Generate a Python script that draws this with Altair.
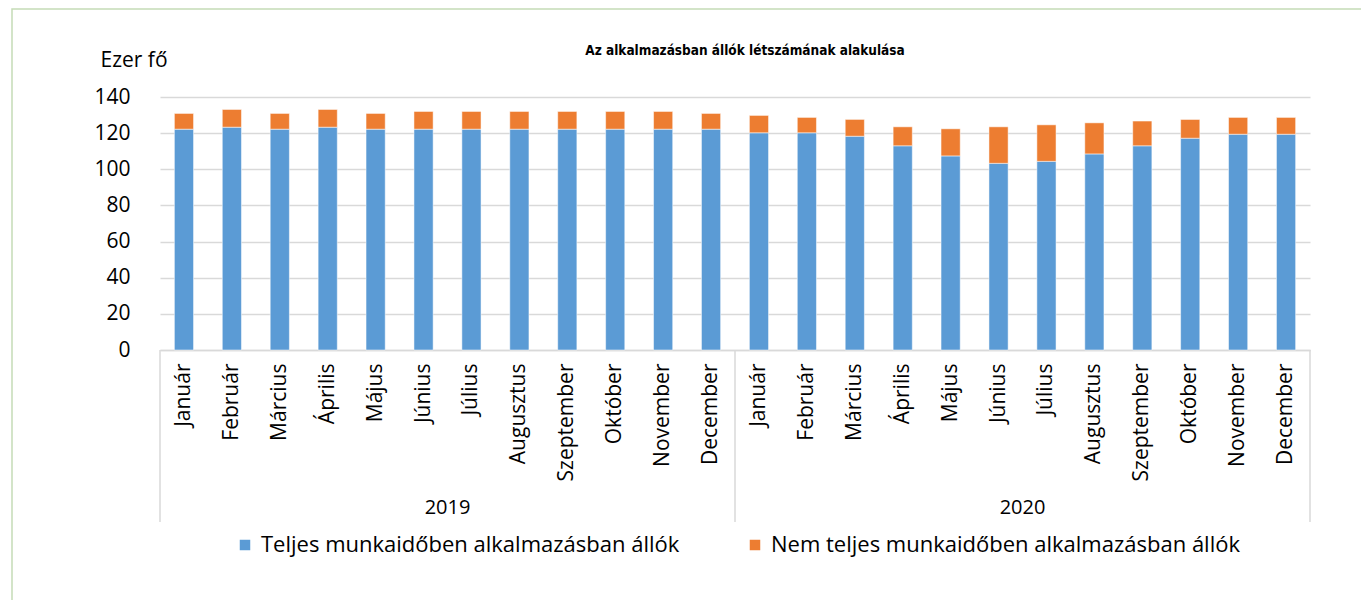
import altair as alt
import pandas as pd

months = ["Január", "Február", "Március", "Április", "Május", "Június",
          "Július", "Augusztus", "Szeptember", "Október", "November", "December"]
years = ["2019", "2020"]

# Ezer fő
full_time = [122.2, 123.3, 122.2, 123.3, 122.2, 122.2, 122.2, 122.2, 122.2, 122.2, 122.2, 122.2,
             120.2, 120.2, 118.3, 113.0, 107.4, 103.3, 104.4, 108.5, 113.0, 117.2, 119.4, 119.4]
part_time = [8.7, 9.8, 8.7, 9.8, 8.7, 9.8, 9.8, 9.8, 9.8, 9.8, 9.8, 8.7,
             9.6, 8.5, 9.3, 10.5, 15.0, 20.2, 20.2, 17.2, 13.7, 10.4, 9.3, 9.3]

series = ["Teljes munkaidőben alkalmazásban állók", "Nem teljes munkaidőben alkalmazásban állók"]
colors = ["#5b9bd5", "#ed7d31"]
y_ticks = [0, 20, 40, 60, 80, 100, 120, 140]

rows = []
for i in range(24):
    rows.append({"idx": i, "ev": years[i // 12], "honap": months[i % 12],
                 "sorozat": series[0], "sorrend": 0, "ertek": full_time[i]})
    rows.append({"idx": i, "ev": years[i // 12], "honap": months[i % 12],
                 "sorozat": series[1], "sorrend": 1, "ertek": part_time[i]})
df = pd.DataFrame(rows)

W, H = 1150, 253
FONT = "Open Sans"
GRID = "#d9d9d9"

month_js = "[" + ",".join("'" + m + "'" for m in months) + "]"
xscale = alt.Scale(domain=list(range(24)), paddingInner=0, paddingOuter=0)

bars = alt.Chart(df).mark_bar(width=alt.RelativeBandSize(0.4), stroke="white", strokeWidth=0.5).encode(
    x=alt.X("idx:O", scale=xscale,
            axis=alt.Axis(labelExpr=month_js + "[datum.value % 12]", labelAngle=-90,
                          ticks=False, domain=True, domainColor=GRID, domainWidth=1.5,
                          labelPadding=13, labelFont=FONT, labelFontSize=21,
                          labelColor="#000000", title=None, grid=False, labelLimit=0)),
    y=alt.Y("ertek:Q", stack="zero", scale=alt.Scale(domain=[0, 140], nice=False),
            axis=alt.Axis(values=y_ticks, grid=True, gridColor=GRID, gridWidth=1.5,
                          domain=False, ticks=False, labelPadding=30, labelFont=FONT,
                          labelFontSize=21, labelColor="#000000",
                          title="Ezer fő", titleAngle=0, titleAlign="left",
                          titleBaseline="alphabetic", titleX=-60, titleY=-31,
                          titleFont=FONT, titleFontSize=21, titleFontWeight="normal",
                          titleColor="#000000")),
    color=alt.Color("sorozat:N", scale=alt.Scale(domain=series, range=colors),
                    legend=alt.Legend(title=None, orient="none", direction="horizontal",
                                      legendX=74, legendY=437, symbolType="square",
                                      symbolSize=110, symbolStrokeWidth=0,
                                      labelFont=FONT, labelFontSize=22, labelLimit=0,
                                      labelColor="#000000", columnPadding=64,
                                      labelOffset=5)),
    order=alt.Order("sorrend:Q", sort="ascending"),
)

sep_df = pd.DataFrame({"idx": [0, 12]})
sep_end_df = pd.DataFrame({"idx": [23]})
seps = alt.Chart(sep_df).mark_rule(color=GRID, strokeWidth=1.5).encode(
    x=alt.X("idx:O", scale=xscale, bandPosition=0),
    y=alt.value(H), y2=alt.value(H + 172))
sep_end = alt.Chart(sep_end_df).mark_rule(color=GRID, strokeWidth=1.5).encode(
    x=alt.X("idx:O", scale=xscale, bandPosition=1),
    y=alt.value(H), y2=alt.value(H + 172))

year_df = pd.DataFrame({"idx": [5, 17], "ev": years})
year_text = alt.Chart(year_df).mark_text(font=FONT, fontSize=20, color="#000000",
                                         baseline="middle", align="center").encode(
    x=alt.X("idx:O", scale=xscale, bandPosition=1),
    y=alt.value(H + 158), text="ev:N")

frame = alt.Chart(pd.DataFrame({"k": [0]})).mark_rect(fill=None, stroke="#c5dbb6", strokeWidth=1.5).encode(
    x=alt.value(-148), x2=alt.value(1250), y=alt.value(-88), y2=alt.value(700))

chart = alt.layer(frame, bars, seps, sep_end, year_text).properties(
    width=W, height=H,
    padding={"left": 152, "top": 89, "right": 51, "bottom": 250},
    autosize=alt.AutoSizeParams(type="none"),
    title=alt.TitleParams("Az alkalmazásban állók létszámának alakulása",
                          font="'DejaVu Sans Condensed', 'Liberation Sans Narrow', Roboto, sans-serif",
                          fontSize=13.5, fontWeight="bold",
                          color="#000000", anchor="middle", frame="group",
                          offset=0, dx=10, dy=49),
).configure_view(stroke=None)

chart.save("out.html", embed_options={"renderer": "svg", "actions": False})
